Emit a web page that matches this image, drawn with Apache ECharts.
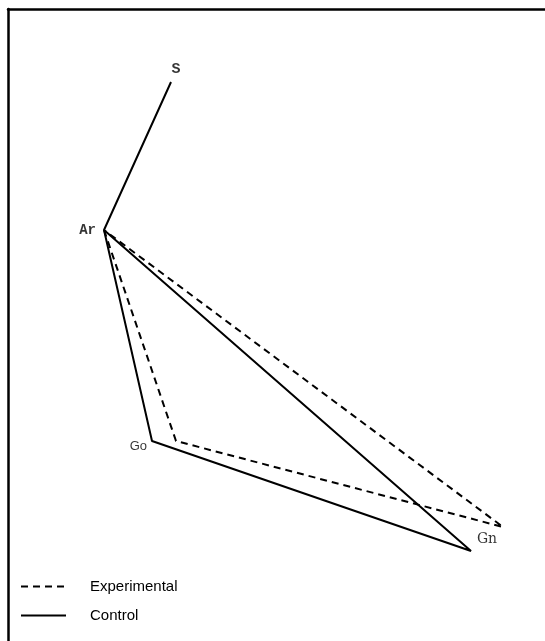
<!DOCTYPE html>
<html><head><meta charset="utf-8">
<script src="https://cdn.jsdelivr.net/npm/echarts@6/dist/echarts.min.js"></script>
<style>html,body{margin:0;padding:0;background:#fff}#c{width:545px;height:641px}</style>
</head><body><div id="c"></div>
<script>
// Cephalometric landmarks (arbitrary tracing units, y grows downward)
const landmarks = ['S', 'Ar', 'Go', 'Gn'];
const controlX = [163, 96, 144, 463];
const controlY = [73, 221, 432, 542];
const experimentalNames = ['Ar', 'Go', 'Gn'];
const experimentalX = [96, 168, 495];
const experimentalY = [221, 432, 518];
// drawing order of the outlines
const controlPath = ['S', 'Ar', 'Go', 'Gn', 'Ar'];
const experimentalPath = ['Ar', 'Go', 'Gn', 'Ar'];

const ctrlPt = n => { const i = landmarks.indexOf(n); return [controlX[i], controlY[i]]; };
const expPt = n => { const i = experimentalNames.indexOf(n); return [experimentalX[i], experimentalY[i]]; };

const labelStyles = {
  S:  {position:'top', distance:5, fontFamily:'Liberation Mono', fontWeight:'bold', fontSize:15, offset:[5,0]},
  Ar: {position:'left', distance:8, fontFamily:'Liberation Mono', fontWeight:'bold', fontSize:14},
  Go: {position:'left', distance:5, fontFamily:'Liberation Sans', fontSize:13, offset:[0,5]},
  Gn: {position:'bottom', distance:5, fontFamily:'DejaVu Serif', fontSize:14, offset:[-16,0]}
};
const labelPoints = [
  {name:'S', value:ctrlPt('S')},
  {name:'Ar', value:ctrlPt('Ar')},
  {name:'Go', value:ctrlPt('Go')},
  {name:'Gn', value:expPt('Gn')}
].map(d => Object.assign(d, {label:Object.assign({show:true, formatter:'{b}', color:'#000'}, labelStyles[d.name])}));

const chart = echarts.init(document.getElementById('c'), null, {renderer:'canvas'});
chart.setOption({
  animation:false,
  grid:{left:8, top:9, right:0, bottom:0, containLabel:false},
  xAxis:{type:'value', min:0, max:537, position:'top',
    axisLine:{show:true, lineStyle:{color:'#000', width:2.5}}, axisTick:{show:false}, axisLabel:{show:false}, splitLine:{show:false}},
  yAxis:{type:'value', min:0, max:632, inverse:true,
    axisLine:{show:true, lineStyle:{color:'#000', width:2.5}}, axisTick:{show:false}, axisLabel:{show:false}, splitLine:{show:false}},
  legend:{orient:'vertical', left:15, top:574, itemWidth:45, itemHeight:14, itemGap:14,
    itemStyle:{color:'transparent', borderWidth:0, opacity:0},
    textStyle:{fontFamily:'Liberation Sans', fontSize:15, color:'#000', padding:[0,0,0,19]},
    data:['Experimental','Control']},
  series:[
    {name:'Experimental', type:'line', data:experimentalPath.map(expPt), symbol:'none',
      lineStyle:{color:'#000', width:2, type:[7,5]}, itemStyle:{color:'#000'}},
    {name:'Control', type:'line', data:controlPath.map(ctrlPt), symbol:'none',
      lineStyle:{color:'#000', width:2}, itemStyle:{color:'#000'}},
    {name:'labels', type:'scatter', data:labelPoints, symbolSize:0, silent:true, itemStyle:{color:'transparent'}}
  ]
});
</script></body></html>
